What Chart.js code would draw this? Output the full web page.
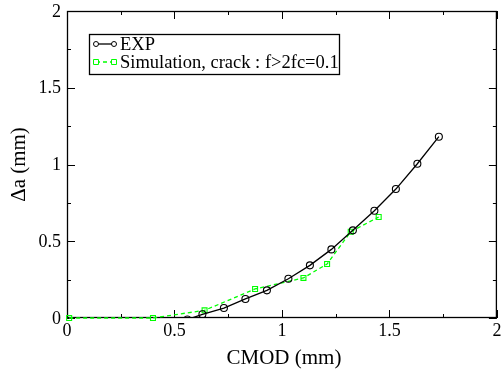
<html>
  <head>
    <script type="text/javascript" src="https://cdn.jsdelivr.net/npm/chart.js@4.4.0/dist/chart.umd.min.js"></script>
    <style>
      body { margin: 0; background: #fff; }
      #c { display: block; }
    </style>
  </head>
  <body>
    <canvas id="c" width="502" height="374"></canvas>
    <script type="text/javascript">

// experiment
var exp_x = [0.56, 0.63, 0.73, 0.83, 0.93, 1.03, 1.13, 1.23, 1.33, 1.43, 1.53, 1.63, 1.73]
var exp_y = [-0.01, 0.024, 0.065, 0.124, 0.180, 0.256, 0.343, 0.447, 0.571, 0.699, 0.840, 1.005, 1.181]

// simulation
var sim_x = [0.01, 0.40, 0.64, 0.875, 1.10, 1.21, 1.32, 1.45]
var sim_y = [0.0, 0.0, 0.050, 0.189, 0.261, 0.352, 0.562, 0.658]

var x_ticks = [0, 0.5, 1, 1.5, 2]
var y_ticks = [0, 0.5, 1, 1.5, 2]
var x_title = "CMOD (mm)"
var y_title = "\u0394a (mm)"
var labels = ["EXP", "Simulation, crack : f>2fc=0.1"]

var green = "#00ff00"
var serif = "'Liberation Serif', 'Times New Roman', serif"

function pairs(xs, ys) {
  var out = []
  for (var i = 0; i < xs.length; i++) out.push({x: xs[i], y: ys[i]})
  return out
}

// frame + inward ticks under the data, text and legend on top
var decor = {
  id: "decor",
  beforeDatasetsDraw: function(chart) {
    var ctx = chart.ctx
    var a = chart.chartArea
    var xs = chart.scales.x, ys = chart.scales.y
    ctx.save()
    ctx.strokeStyle = "#000"
    ctx.lineWidth = 1.3
    ctx.strokeRect(a.left + 0.5, a.top + 0.5, a.right - a.left - 1, a.bottom - a.top - 1)
    ctx.lineWidth = 1
    ctx.beginPath()
    for (var v = 0; v <= 2.001; v += 0.25) {
      var major = Math.abs(v * 2 - Math.round(v * 2)) < 1e-6
      var len = major ? 8 : 4
      var px = Math.round(xs.getPixelForValue(v)) + 0.5
      ctx.moveTo(px, a.bottom); ctx.lineTo(px, a.bottom - len)
      ctx.moveTo(px, a.top); ctx.lineTo(px, a.top + len)
      var py = Math.round(ys.getPixelForValue(v)) + 0.5
      ctx.moveTo(a.left, py); ctx.lineTo(a.left + len, py)
      ctx.moveTo(a.right, py); ctx.lineTo(a.right - len, py)
    }
    ctx.stroke()
    ctx.restore()
  },
  afterDraw: function(chart) {
    var ctx = chart.ctx
    var a = chart.chartArea
    var xs = chart.scales.x, ys = chart.scales.y
    ctx.save()
    ctx.fillStyle = "#000"
    ctx.font = "18px " + serif
    ctx.textAlign = "center"
    ctx.textBaseline = "middle"
    x_ticks.forEach(function(t) {
      ctx.fillText(String(t), xs.getPixelForValue(t), a.bottom + 13)
    })
    ctx.textAlign = "right"
    y_ticks.forEach(function(t) {
      ctx.fillText(String(t), a.left - 6, ys.getPixelForValue(t) + 1)
    })

    ctx.font = "21px " + serif
    ctx.textAlign = "center"
    ctx.fillText(x_title, (a.left + a.right) / 2 + 2, 358)
    ctx.save()
    ctx.translate(19, (a.top + a.bottom) / 2)
    ctx.rotate(-Math.PI / 2)
    ctx.fillText(y_title, 0, 0)
    ctx.restore()

    // legend
    var bx = 89.5, by = 34.5, bw = 250, bh = 40
    ctx.fillStyle = "#fff"
    ctx.fillRect(bx, by, bw, bh)
    ctx.strokeStyle = "#000"
    ctx.lineWidth = 1.3
    ctx.strokeRect(bx, by, bw, bh)
    ctx.font = "18.5px " + serif
    var rows = [44, 62]
    chart.data.datasets.forEach(function(ds, i) {
      var y = rows[i]
      ctx.strokeStyle = ds.borderColor
      ctx.lineWidth = ds.borderWidth
      ctx.setLineDash(ds.borderDash || [])
      ctx.beginPath(); ctx.moveTo(96, y); ctx.lineTo(114, y); ctx.stroke()
      ctx.setLineDash([])
      ctx.lineWidth = 1
      ;[96, 114].forEach(function(mx) {
        ctx.beginPath()
        if (ds.pointStyle == "rect") ctx.rect(mx - 2.5, y - 2.5, 5, 5)
        else ctx.arc(mx, y, 2.5, 0, Math.PI * 2)
        ctx.fillStyle = "#fff"; ctx.fill(); ctx.stroke()
      })
      ctx.fillStyle = "#000"
      ctx.textAlign = "left"
      ctx.fillText(labels[i], 120, y + 1)
    })
    ctx.restore()
  }
}

var config = {
  type: "scatter",
  data: {
    datasets: [{
      label: labels[0],
      data: pairs(exp_x, exp_y),
      showLine: true,
      borderColor: "#000",
      borderWidth: 1.3,
      pointStyle: "circle",
      pointRadius: 3.5,
      pointBorderWidth: 1.1,
      pointBorderColor: "#000",
      pointBackgroundColor: "rgba(255,255,255,0)"
    }, {
      label: labels[1],
      data: pairs(sim_x, sim_y),
      showLine: true,
      clip: 6,
      borderColor: green,
      borderWidth: 1.3,
      borderDash: [4, 3],
      pointStyle: "rect",
      pointRadius: 3.5,
      pointBorderWidth: 1.1,
      pointBorderColor: green,
      pointBackgroundColor: "rgba(255,255,255,0)"
    }]
  },
  options: {
    responsive: false,
    animation: false,
    layout: { padding: { top: 11, right: 0, left: 0, bottom: 0 } },
    plugins: { legend: { display: false }, tooltip: { enabled: false } },
    scales: {
      x: {
        type: "linear", min: 0, max: 2,
        grid: { display: false },
        border: { display: false },
        ticks: { display: false },
        afterFit: function(s) { s.height = 56 }
      },
      y: {
        type: "linear", min: 0, max: 2,
        grid: { display: false },
        border: { display: false },
        ticks: { display: false },
        afterFit: function(s) { s.width = 67 }
      }
    }
  },
  plugins: [decor]
}

new Chart(document.getElementById("c").getContext("2d"), config)

    </script>
  </body>
</html>
